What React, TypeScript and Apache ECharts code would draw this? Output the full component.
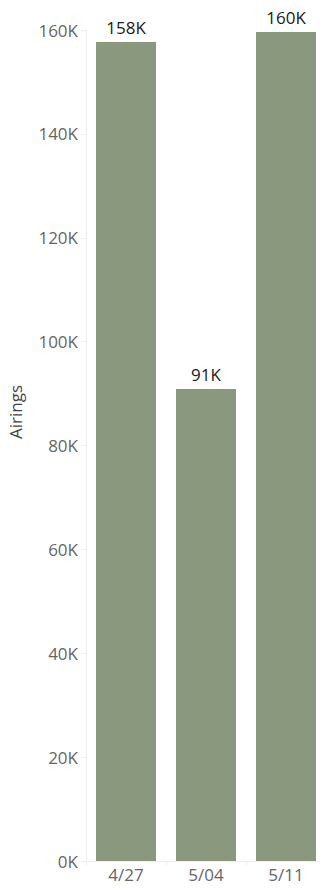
import React, { useEffect, useRef } from "react";
import * as echarts from "echarts";

const categories = ["4/27", "5/04", "5/11"];
const airings = [157700, 90900, 159600];
const barLabels = ["158K", "91K", "160K"];
const yTicks = [0, 20000, 40000, 60000, 80000, 100000, 120000, 140000, 160000];
const yAxisTitle = "Airings";

export default function App() {
  const ref = useRef<HTMLDivElement>(null);
  useEffect(() => {
    const chart = echarts.init(ref.current!, null, { renderer: "svg" });
    const font = "'Open Sans', 'Noto Sans', sans-serif";
    chart.setOption({
      animation: false,
      textStyle: { fontFamily: font },
      grid: {
        left: 86,
        width: 240,
        top: 30,
        height: 831,
        containLabel: false,
        outerBoundsMode: "none",
      },
      graphic: [
        {
          type: "text",
          x: 15,
          y: 412,
          rotation: Math.PI / 2,
          style: {
            text: yAxisTitle,
            fill: "#444444",
            fontSize: 17,
            fontFamily: font,
            textAlign: "center",
            textVerticalAlign: "middle",
          },
        },
      ],
      xAxis: {
        type: "category",
        data: categories,
        axisLine: { show: true, lineStyle: { color: "#eeeeee" } },
        axisTick: { show: true, length: 4, lineStyle: { color: "#eeeeee" } },
        axisLabel: { color: "#666666", fontSize: 17, fontFamily: font, margin: 5 },
      },
      yAxis: {
        type: "value",
        min: 0,
        max: yTicks[yTicks.length - 1],
        interval: 20000,
        axisLine: { show: true, lineStyle: { color: "#eeeeee" } },
        axisTick: { show: true, length: 5, lineStyle: { color: "#eeeeee" } },
        splitLine: { show: false },
        axisLabel: {
          color: "#666666",
          fontSize: 17,
          fontFamily: font,
          margin: 8,
          formatter: (v: number) => `${Math.round(v / 1000)}K`,
        },
      },
      series: [
        {
          type: "bar",
          data: airings,
          barCategoryGap: "25%",
          itemStyle: { color: "#8a997d" },
          label: {
            show: true,
            position: "top",
            distance: 6,
            color: "#1a1a1a",
            fontSize: 17,
            fontFamily: font,
            formatter: (p: any) => barLabels[p.dataIndex],
          },
        },
      ],
    });
    return () => chart.dispose();
  }, []);
  return (
    <div
      ref={ref}
      style={{ position: "absolute", left: 0, top: 0, width: 320, height: 888 }}
    />
  );
}
